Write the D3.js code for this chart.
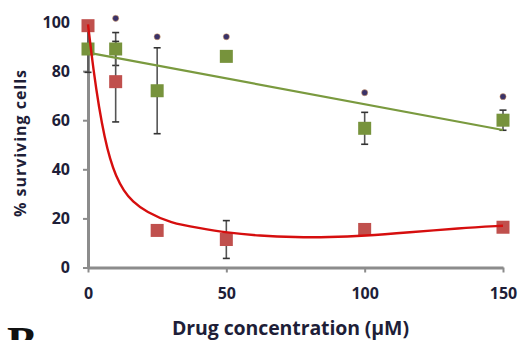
<!DOCTYPE html>
<html>
<head>
<meta charset="utf-8">
<script src="https://cdn.jsdelivr.net/npm/d3@7/dist/d3.min.js"></script>
<style>
  html, body { margin: 0; padding: 0; background: #fff; }
  svg { display: block; }
</style>
</head>
<body>
<svg id="chart" width="521" height="340"></svg>
<script>
// Drug concentrations (µM) where cells were measured
const concentrations = [0, 10, 25, 50, 100, 150];

// Green series: mean % surviving and error (±)
const greenValues = [89, 89, 72, 86, 56.7, 60];
const greenErrors = [9.5, 6.7, 17.5, 0, 6.5, 4.1];

// Red series: mean % surviving and error (±)
const redValues = [98.5, 75.7, 15.1, 11.4, 15.5, 16.4];
const redErrors = [0, 16.4, 0, 7.7, 0, 0];

// Significance markers (*) above the green points
const starX = [10, 25, 50, 100, 150];
const starY = [101.5, 94, 94, 71.2, 69.6];

// Linear trend for the green series (end points)
const greenFitX = [0, 150];
const greenFitY = [87.5, 56];

// Fitted curve for the red series
const redFitX = [0, 2, 4, 6, 8, 10, 13, 16, 21, 30, 40, 50, 62, 75, 87, 100, 116, 134, 150];
const redFitY = [99, 80, 65, 53, 44, 37.5, 31, 27, 22.6, 18.1, 16.1, 14.2, 12.9, 12.3, 12.3, 12.9, 14.3, 16, 17];

const xTicks = [0, 50, 100, 150];
const yTicks = [0, 20, 40, 60, 80, 100];

const color = {
  green: '#77933c',
  greenLine: '#7a9a3f',
  red: '#c0504d',
  redLine: '#d60e0e',
  axis: '#8c8c8c',
  error: '#555555',
  text: '#1e1e38',
  star: '#3a3268'
};

const font = '"Open Sans", "Liberation Sans", sans-serif';

const svg = d3.select('#chart').style('font-family', font);

const x = d3.scaleLinear().domain([0, 150]).range([88, 503]);
const y = d3.scaleLinear().domain([0, 100]).range([267.5, 22]);

// Axes
svg
  .append('g')
  .attr('class', 'axis x')
  .attr('transform', `translate(0, ${y(0)})`)
  .call(d3.axisBottom(x).tickValues(xTicks).tickSize(5).tickSizeOuter(0).tickPadding(15));

svg
  .append('g')
  .attr('class', 'axis y')
  .attr('transform', `translate(${x(0)}, 0)`)
  .call(d3.axisLeft(y).tickValues(yTicks).tickSize(5).tickSizeOuter(0).tickPadding(13));

svg.selectAll('.axis .domain').attr('stroke', color.axis).attr('stroke-width', 3);
svg.selectAll('.axis .tick line').attr('stroke', color.axis).attr('stroke-width', 2);
svg
  .selectAll('.axis .tick text')
  .attr('fill', color.text)
  .attr('font-size', 16)
  .attr('font-weight', 'bold')
  .attr('font-family', font);

// Axis titles
svg
  .append('text')
  .attr('x', 172)
  .attr('y', 335)
  .attr('font-size', 19.5)
  .attr('font-weight', 'bold')
  .attr('fill', color.text)
  .attr('textLength', 237)
  .attr('lengthAdjust', 'spacing')
  .text('Drug concentration (µM)');

svg
  .append('text')
  .attr('transform', 'translate(26, 217) rotate(-90)')
  .attr('font-size', 16)
  .attr('font-weight', 'bold')
  .attr('fill', color.text)
  .attr('textLength', 147)
  .attr('lengthAdjust', 'spacing')
  .text('% surviving cells');

// Panel letter, cut by the bottom edge
svg
  .append('text')
  .attr('x', 7)
  .attr('y', 357)
  .attr('font-size', 45)
  .attr('font-weight', 'bold')
  .attr('font-family', '"Liberation Serif", "DejaVu Serif", serif')
  .attr('fill', '#111')
  .text('B');

// Error bars
function drawErrors(values, errors) {
  const rows = concentrations
    .map((c, i) => ({ c, v: values[i], e: errors[i] }))
    .filter(d => d.e > 0);

  const g = svg.append('g').attr('class', 'errors');
  g.selectAll('line.bar')
    .data(rows)
    .join('line')
    .attr('class', 'bar')
    .attr('stroke', color.error)
    .attr('stroke-width', 1.6)
    .attr('x1', d => x(d.c))
    .attr('x2', d => x(d.c))
    .attr('y1', d => y(d.v + d.e))
    .attr('y2', d => y(d.v - d.e));
  [1, -1].forEach((sign, k) => {
    g.selectAll(`line.cap${k}`)
      .data(rows)
      .join('line')
      .attr('class', `cap${k}`)
      .attr('stroke', '#333')
      .attr('stroke-width', 1.6)
      .attr('x1', d => x(d.c) - 3.5)
      .attr('x2', d => x(d.c) + 3.5)
      .attr('y1', d => y(d.v + sign * d.e))
      .attr('y2', d => y(d.v + sign * d.e));
  });
}

drawErrors(greenValues, greenErrors);
drawErrors(redValues, redErrors);

// Square markers
const size = 13;
function drawSquares(values, fill) {
  svg
    .append('g')
    .selectAll('rect')
    .data(concentrations.map((c, i) => ({ c, v: values[i] })))
    .join('rect')
    .attr('x', d => x(d.c) - size / 2)
    .attr('y', d => y(d.v) - size / 2)
    .attr('width', size)
    .attr('height', size)
    .attr('fill', fill);
}

drawSquares(greenValues, color.green);
drawSquares(redValues, color.red);

// Fitted lines
const straight = d3
  .line()
  .x(d => x(d[0]))
  .y(d => y(d[1]));

const smooth = d3
  .line()
  .x(d => x(d[0]))
  .y(d => y(d[1]))
  .curve(d3.curveBasis);

svg
  .append('path')
  .datum(greenFitX.map((v, i) => [v, greenFitY[i]]))
  .attr('fill', 'none')
  .attr('stroke', color.greenLine)
  .attr('stroke-width', 2.2)
  .attr('d', straight);

svg
  .append('path')
  .datum(redFitX.map((v, i) => [v, redFitY[i]]))
  .attr('fill', 'none')
  .attr('stroke', color.redLine)
  .attr('stroke-width', 2.4)
  .attr('d', smooth);

// Significance stars
svg
  .append('g')
  .selectAll('circle')
  .data(starX.map((v, i) => [v, starY[i]]))
  .join('circle')
  .attr('cx', d => x(d[0]))
  .attr('cy', d => y(d[1]))
  .attr('r', 3.1)
  .attr('fill', color.star)
  .attr('stroke', '#e9a868')
  .attr('stroke-width', 0.5);
</script>
</body>
</html>
